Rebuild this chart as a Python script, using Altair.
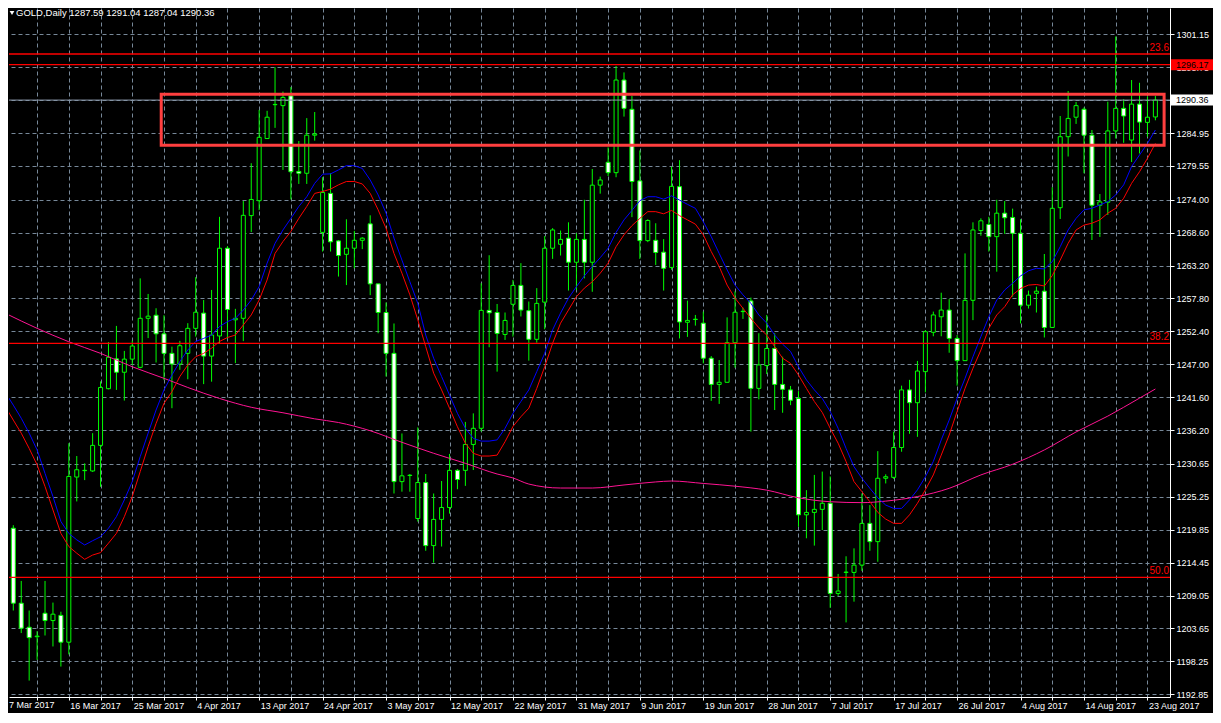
import altair as alt
import pandas as pd

alt.data_transformers.disable_max_rows()

# ---------------- data ----------------
DATES = ["7 Mar 2017", "16 Mar 2017", "25 Mar 2017", "4 Apr 2017", "13 Apr 2017",
         "24 Apr 2017", "3 May 2017", "12 May 2017", "22 May 2017", "31 May 2017",
         "9 Jun 2017", "19 Jun 2017", "28 Jun 2017", "7 Jul 2017", "17 Jul 2017",
         "26 Jul 2017", "4 Aug 2017", "14 Aug 2017", "23 Aug 2017"]

OPEN = [1228.7, 1220.1, 1207.8, 1203.85, 1202.3, 1206.15, 1204.95, 1205.8, 1201.4, 1228.5,
        1229.55, 1229.5, 1233.7, 1243.0, 1247.9, 1245.7, 1247.85, 1246.5, 1254.55, 1255.05,
        1252.0, 1248.8, 1247.05, 1248.8, 1252.9, 1255.4, 1248.35, 1251.65, 1266.05, 1254.3,
        1254.55, 1271.4, 1273.85, 1284.05, 1289.6, 1289.45, 1291.05, 1278.65, 1278.35, 1284.6,
        1268.65, 1275.05, 1267.25, 1265.05, 1266.05, 1267.35, 1270.05, 1260.2, 1255.5, 1248.8,
        1227.75, 1228.75, 1221.7, 1227.6, 1217.25, 1221.55, 1223.5, 1229.6, 1229.6, 1233.85,
        1236.5, 1255.85, 1255.5, 1251.9, 1256.85, 1259.95, 1255.8, 1251.1, 1257.2, 1266.05,
        1266.7, 1267.7, 1263.75, 1267.5, 1263.75, 1276.4, 1280.15, 1278.45, 1293.65, 1288.85,
        1277.1, 1267.3, 1267.35, 1265.4, 1262.9, 1276.15, 1253.9, 1254.35, 1253.75, 1248.0,
        1243.7, 1244.05, 1250.55, 1255.65, 1257.4, 1243.05, 1246.8, 1249.6, 1243.7, 1242.8,
        1241.4, 1222.3, 1222.7, 1223.2, 1224.2, 1209.4, 1212.85, 1212.85, 1214.05, 1220.9,
        1217.9, 1228.3, 1228.45, 1233.35, 1242.8, 1240.7, 1245.8, 1252.25, 1254.8, 1255.9,
        1251.25, 1247.6, 1257.5, 1268.95, 1269.95, 1267.95, 1271.8, 1271.1, 1268.5, 1256.7,
        1258.65, 1259.0, 1253.05, 1272.7, 1284.35, 1287.55, 1288.85, 1284.6, 1273.1, 1273.6,
        1285.3, 1289.0, 1283.8, 1289.7, 1286.7, 1287.59]

HIGH = [1229.5, 1220.6, 1211.45, 1206.6, 1203.2, 1211.45, 1207.9, 1206.4, 1234.05, 1231.95,
        1230.75, 1235.7, 1244.2, 1250.65, 1253.3, 1249.2, 1250.9, 1261.1, 1258.55, 1256.2,
        1255.05, 1249.9, 1250.85, 1253.75, 1261.3, 1257.55, 1259.2, 1271.2, 1266.4, 1256.1,
        1273.8, 1280.0, 1288.75, 1288.6, 1295.75, 1291.75, 1292.5, 1283.65, 1287.4, 1288.4,
        1277.7, 1278.35, 1267.4, 1270.8, 1268.9, 1267.85, 1271.45, 1260.2, 1257.15, 1253.7,
        1235.65, 1229.0, 1236.65, 1229.0, 1225.8, 1227.85, 1232.3, 1229.8, 1237.55, 1238.95,
        1260.3, 1264.9, 1256.9, 1255.5, 1260.85, 1263.6, 1257.3, 1259.5, 1268.05, 1269.35,
        1268.95, 1270.3, 1268.5, 1274.0, 1279.05, 1277.8, 1282.6, 1295.95, 1294.9, 1291.05,
        1282.1, 1270.8, 1270.15, 1267.55, 1279.45, 1280.5, 1257.45, 1255.1, 1255.65, 1248.35,
        1247.7, 1254.7, 1258.95, 1256.3, 1257.95, 1252.1, 1255.1, 1252.1, 1248.25, 1243.45,
        1242.6, 1226.35, 1228.85, 1229.4, 1228.6, 1212.6, 1215.5, 1216.8, 1225.8, 1223.9,
        1232.75, 1228.95, 1235.95, 1243.5, 1244.45, 1247.55, 1252.6, 1255.65, 1258.75, 1257.7,
        1251.8, 1265.2, 1270.3, 1270.95, 1271.2, 1274.0, 1273.8, 1272.55, 1270.8, 1259.1,
        1259.75, 1265.1, 1276.05, 1287.75, 1291.85, 1290.05, 1289.15, 1285.45, 1274.95, 1290.1,
        1300.8, 1290.5, 1293.65, 1293.2, 1290.95, 1291.04]

LOW = [1219.5, 1206.6, 1202.9, 1195.1, 1198.5, 1202.5, 1200.7, 1197.4, 1199.4, 1224.5,
       1228.0, 1229.35, 1226.9, 1242.9, 1242.8, 1241.05, 1246.9, 1246.35, 1251.3, 1247.3,
       1244.4, 1239.8, 1246.1, 1244.55, 1251.55, 1243.75, 1244.15, 1250.45, 1251.25, 1247.2,
       1250.8, 1268.7, 1272.3, 1284.05, 1285.8, 1278.9, 1274.05, 1276.6, 1276.6, 1283.7,
       1265.5, 1265.5, 1261.4, 1260.0, 1262.75, 1265.9, 1258.35, 1252.1, 1245.0, 1225.8,
       1226.1, 1226.1, 1221.2, 1216.4, 1214.45, 1217.1, 1222.5, 1226.5, 1227.05, 1229.65,
       1235.95, 1249.8, 1245.8, 1251.0, 1251.55, 1254.85, 1247.6, 1250.55, 1252.75, 1264.3,
       1264.85, 1259.1, 1259.2, 1261.1, 1258.9, 1275.0, 1277.9, 1277.7, 1287.65, 1271.15,
       1264.3, 1267.05, 1263.3, 1259.1, 1262.5, 1251.25, 1251.5, 1253.35, 1247.15, 1241.0,
       1240.5, 1244.05, 1246.45, 1254.45, 1235.95, 1241.25, 1245.4, 1239.5, 1239.05, 1240.3,
       1220.35, 1218.45, 1217.25, 1219.8, 1207.05, 1209.0, 1204.65, 1208.05, 1213.1, 1216.4,
       1214.6, 1227.45, 1228.2, 1232.65, 1235.6, 1235.1, 1242.4, 1251.6, 1251.6, 1248.9,
       1243.5, 1247.6, 1254.25, 1268.1, 1265.5, 1262.2, 1268.4, 1258.1, 1253.7, 1256.15,
       1255.5, 1251.4, 1253.05, 1270.85, 1281.1, 1286.45, 1278.35, 1267.4, 1267.9, 1271.5,
       1284.05, 1283.35, 1280.2, 1281.6, 1284.35, 1287.04]

CLOSE = [1220.1, 1207.8, 1203.7, 1202.15, 1202.4, 1204.95, 1206.0, 1201.4, 1228.6, 1229.7,
         1229.6, 1233.7, 1243.2, 1248.15, 1245.7, 1247.85, 1250.0, 1254.55, 1254.9, 1252.0,
         1248.8, 1247.05, 1250.05, 1252.9, 1255.55, 1248.35, 1251.8, 1266.05, 1256.0, 1254.55,
         1271.45, 1274.05, 1284.25, 1287.55, 1289.65, 1290.8, 1278.6, 1278.35, 1284.6, 1284.8,
         1275.2, 1267.1, 1264.85, 1266.05, 1267.35, 1267.7, 1260.2, 1255.5, 1248.8, 1227.75,
         1228.7, 1228.8, 1227.6, 1217.25, 1221.55, 1223.5, 1229.6, 1228.1, 1233.85, 1236.5,
         1255.85, 1255.45, 1252.05, 1254.2, 1259.95, 1255.9, 1251.1, 1257.0, 1266.05, 1269.05,
         1267.5, 1263.75, 1267.5, 1263.75, 1276.4, 1277.25, 1278.45, 1293.65, 1289.0, 1277.0,
         1267.3, 1270.6, 1265.35, 1262.75, 1276.2, 1253.95, 1254.2, 1254.4, 1248.0, 1243.7,
         1244.05, 1250.55, 1255.55, 1255.7, 1243.05, 1246.9, 1249.6, 1243.7, 1242.9, 1241.1,
         1222.3, 1222.7, 1223.2, 1224.2, 1209.4, 1209.8, 1212.9, 1214.05, 1220.9, 1217.9,
         1228.3, 1228.55, 1233.35, 1242.8, 1240.7, 1245.9, 1252.35, 1255.1, 1255.9, 1251.25,
         1247.6, 1257.5, 1269.05, 1270.55, 1267.95, 1271.8, 1271.05, 1268.5, 1256.7, 1258.35,
         1259.0, 1253.05, 1272.6, 1284.35, 1287.35, 1289.45, 1284.6, 1273.1, 1273.65, 1285.3,
         1289.0, 1287.75, 1289.7, 1286.75, 1287.55, 1290.36]

MA_BLUE = [1242.35, 1240.3, 1238.15, 1235.7, 1232.95, 1229.1, 1225.3, 1221.2, 1219.25, 1218.2,
           1217.35, 1218.05, 1218.7, 1220.1, 1222.0, 1224.75, 1227.75, 1231.85, 1235.7, 1239.5,
           1242.8, 1245.25, 1247.45, 1249.35, 1250.75, 1251.25, 1251.8, 1253.2, 1254.0, 1254.55,
           1255.9, 1257.55, 1259.75, 1263.6, 1266.85, 1269.05, 1270.95, 1272.9, 1274.5, 1276.7,
           1278.2, 1278.25, 1278.9, 1279.6, 1279.6, 1279.15, 1277.25, 1274.8, 1271.8, 1267.7,
           1264.1, 1260.55, 1257.0, 1251.8, 1248.0, 1245.0, 1241.95, 1238.95, 1236.5, 1234.85,
           1234.4, 1234.4, 1234.6, 1236.5, 1238.95, 1240.9, 1242.8, 1245.8, 1248.8, 1252.65,
           1255.4, 1257.85, 1259.75, 1261.5, 1263.05, 1264.5, 1266.05, 1268.65, 1270.7, 1272.25,
           1273.85, 1274.5, 1274.5, 1274.1, 1274.65, 1273.95, 1273.25, 1272.6, 1270.4, 1267.95,
           1265.2, 1262.5, 1260.0, 1258.4, 1257.0, 1255.1, 1253.75, 1251.8, 1250.3, 1249.1,
           1246.6, 1244.45, 1242.8, 1241.4, 1239.25, 1236.5, 1233.2, 1230.2, 1228.3, 1226.65,
           1225.1, 1223.9, 1223.35, 1223.35, 1224.75, 1226.4, 1228.55, 1231.05, 1234.6, 1237.85,
           1241.4, 1244.7, 1248.25, 1251.55, 1254.8, 1257.55, 1259.2, 1260.3, 1261.5, 1262.35,
           1262.75, 1262.65, 1263.85, 1266.3, 1269.05, 1270.95, 1272.35, 1272.6, 1273.15, 1273.7,
           1274.8, 1276.45, 1279.45, 1281.35, 1283.25, 1285.45]

MA_RED = [1240.05, 1237.85, 1235.7, 1233.2, 1230.5, 1226.95, 1223.1, 1219.25, 1217.1, 1216.0,
          1215.0, 1215.7, 1216.1, 1217.65, 1219.25, 1222.0, 1225.3, 1229.4, 1233.5, 1237.3,
          1240.6, 1242.5, 1245.0, 1246.9, 1248.25, 1248.8, 1249.65, 1250.75, 1251.4, 1251.8,
          1253.45, 1255.1, 1257.55, 1260.85, 1265.2, 1267.15, 1268.8, 1270.95, 1272.9, 1275.05,
          1275.35, 1275.75, 1276.45, 1277.0, 1277.0, 1276.6, 1275.05, 1272.35, 1269.3, 1265.2,
          1261.95, 1258.4, 1254.3, 1249.9, 1245.55, 1242.8, 1239.8, 1236.75, 1234.05, 1232.4,
          1231.95, 1231.95, 1232.1, 1234.3, 1236.8, 1238.4, 1239.8, 1243.05, 1246.6, 1250.45,
          1253.75, 1255.9, 1258.1, 1259.5, 1260.55, 1261.95, 1263.6, 1266.3, 1268.25, 1269.75,
          1270.95, 1272.05, 1272.05, 1271.7, 1272.25, 1271.4, 1270.7, 1270.0, 1268.25, 1265.5,
          1263.05, 1260.0, 1257.85, 1256.2, 1254.55, 1253.0, 1251.8, 1249.9, 1248.0, 1247.15,
          1245.25, 1243.05, 1240.9, 1239.1, 1236.5, 1234.05, 1231.05, 1227.75, 1226.1, 1224.45,
          1222.7, 1221.6, 1220.9, 1220.9, 1222.3, 1224.2, 1226.4, 1228.85, 1232.1, 1235.4,
          1239.25, 1243.05, 1246.35, 1249.35, 1252.9, 1255.1, 1256.45, 1258.4, 1259.45, 1260.0,
          1260.1, 1259.85, 1261.55, 1264.1, 1266.85, 1269.05, 1269.85, 1270.15, 1270.7, 1271.8,
          1272.6, 1274.25, 1276.7, 1278.6, 1280.8, 1283.25]

MA_PINK_AT = [0, 4, 8, 12, 16, 20, 23, 27, 31, 35, 39, 42, 46, 50, 54, 58, 62, 64, 66, 70,
              74, 78, 82, 84, 88, 92, 96, 100, 104, 108, 111, 115, 119, 123, 127, 131, 135, 139, 143, 145]
MA_PINK = [1255.37, 1252.9, 1250.7, 1248.8, 1246.6, 1244.7, 1243.2, 1241.4, 1239.95, 1239.05,
           1238.05, 1237.45, 1236.1, 1234.2, 1232.4, 1230.75, 1229.0, 1228.35, 1227.35, 1226.7,
           1226.7, 1227.2, 1227.7, 1227.85, 1227.45, 1227.0, 1226.35, 1225.1, 1224.45, 1224.3,
           1224.55, 1225.3, 1226.65, 1228.85, 1230.6, 1232.95, 1235.9, 1238.5, 1241.45, 1242.95]

PRICE_TICKS = [1192.85, 1198.25, 1203.65, 1209.05, 1214.45, 1219.85, 1225.25, 1230.65, 1236.20,
               1241.60, 1247.00, 1252.40, 1257.80, 1263.20, 1268.60, 1274.00, 1279.55, 1284.95,
               1290.35, 1295.75, 1301.15]

FIB_LABELS = ["23.6", "38.2", "50.0"]
FIB_LEVELS = [1297.92, 1250.45, 1212.05]

TAG_LABELS = ["1296.17", "1290.36"]
TAG_PRICES = [1296.17, 1290.36]

BOX_BARS = [19.65, 146.1]          # highlight rectangle, bar positions
BOX_PRICES = [1291.33, 1282.95]     # highlight rectangle, top / bottom price

TITLE = "GOLD,Daily  1287.59 1291.04 1287.04 1290.36"

# ---------------- tables ----------------
n = len(OPEN)
candles = pd.DataFrame({"i": list(range(n)), "open": OPEN, "high": HIGH,
                        "low": LOW, "close": CLOSE})
ma = pd.DataFrame({"i": list(range(n)), "blue": MA_BLUE, "red": MA_RED})
pink = pd.DataFrame({"i": MA_PINK_AT, "v": MA_PINK})
fib = pd.DataFrame({"label": FIB_LABELS, "price": FIB_LEVELS})
levels = pd.DataFrame({"price": [FIB_LEVELS[0], TAG_PRICES[0], FIB_LEVELS[1], FIB_LEVELS[2]]})
cur = pd.DataFrame({"price": [TAG_PRICES[1]]})
tags = pd.DataFrame({"label": TAG_LABELS, "price": TAG_PRICES,
                     "bg": ["#ff0000", "#ffffff"]})
box = pd.DataFrame({"x1": [BOX_BARS[0]], "x2": [BOX_BARS[1]],
                    "y1": [BOX_PRICES[0]], "y2": [BOX_PRICES[1]]})
first = pd.DataFrame({"label": [DATES[0]]})
title = pd.DataFrame({"t": [TITLE]})

W, H = 1161, 689
XS = alt.Scale(domain=[1.0875, 146.2125], nice=False, zero=False)
YS = alt.Scale(domain=[1192.407, 1305.47], nice=False, zero=False)

FONT = "Liberation Sans"
GRID = "#778899"
arr = "[" + ",".join("'" + d + "'" for d in DATES) + "]"
XAX = alt.Axis(values=list(range(4, 147, 4)),
               labelExpr="datum.value % 8 == 0 ? " + arr + "[datum.value / 8] : ''",
               orient="bottom", grid=True, gridColor=GRID, gridDash=[4, 3], gridWidth=1,
               domainColor="white", domainWidth=1, tickColor="white", tickSize=3,
               labelColor="white", labelFont=FONT, labelFontSize=9, labelAlign="left",
               labelBaseline="top", labelPadding=1, labelOffset=1, labelFlush=False,
               labelOverlap=False, labelBound=False, title=None)
YAX = alt.Axis(values=PRICE_TICKS, format=".2f", orient="right", grid=True,
               gridColor=GRID, gridDash=[4, 3], gridWidth=1,
               domainColor="white", domainWidth=1, tickColor="white", tickSize=4,
               labelColor="white", labelFont=FONT, labelFontSize=9, labelPadding=2,
               labelFlush=False, labelOverlap=False, title=None)


def X(field):
    return alt.X(field, type="quantitative", scale=XS, axis=XAX)


def Y(field):
    return alt.Y(field, type="quantitative", scale=YS, axis=YAX)


wicks = alt.Chart(candles).mark_rule(color="#00ff00", strokeWidth=1, clip=True).encode(
    x=X("i"), y=Y("low"), y2="high")

bodies = alt.Chart(candles).mark_bar(size=4, stroke="#00ff00", strokeWidth=1, clip=True).encode(
    x=X("i"), y=Y("open"), y2="close",
    fill=alt.condition("datum.close < datum.open", alt.value("#ffffff"), alt.value("#000000")))

pink_line = alt.Chart(pink).mark_line(color="#ff1493", strokeWidth=1, clip=True,
                                       interpolate="monotone").encode(x=X("i"), y=Y("v"))
red_line = alt.Chart(ma).mark_line(color="#ff0000", strokeWidth=1, clip=True).encode(
    x=X("i"), y=Y("red"))
blue_line = alt.Chart(ma).mark_line(color="#0000ff", strokeWidth=1, clip=True).encode(
    x=X("i"), y=Y("blue"))

lvl = alt.Chart(levels).mark_rule(color="#ff0000", strokeWidth=1.3).encode(y=Y("price"))
cur_line = alt.Chart(cur).mark_rule(color="#8c9aab", strokeWidth=1).encode(y=Y("price"))

fib_text = alt.Chart(fib).mark_text(align="right", baseline="bottom", dy=-1, color="#ff0000",
                                    font=FONT, fontSize=10).encode(
    x=alt.value(W - 1), y=Y("price"), text="label:N")

hl = alt.Chart(box).mark_rect(fillOpacity=0, stroke="#ff3f3f", strokeWidth=3, clip=True).encode(
    x=X("x1"), x2="x2", y=Y("y1"), y2="y2")

tag_bg = alt.Chart(tags).mark_rect(yOffset=-5.5, y2Offset=5.5).encode(
    x=alt.value(W + 1), x2=alt.value(W + 43), y=Y("price"), y2="price",
    fill=alt.Fill("bg:N", scale=None))
tag_txt = alt.Chart(tags).mark_text(align="left", baseline="middle", color="#000000",
                                    font=FONT, fontSize=9).encode(
    x=alt.value(W + 6), y=Y("price"), text="label:N")

first_lbl = alt.Chart(first).mark_text(align="left", baseline="top", color="white",
                                       font=FONT, fontSize=9).encode(
    x=alt.value(0), y=alt.value(H + 4), text="label:N")

tri = alt.Chart(title).mark_point(shape="triangle-down", filled=True, size=22,
                                  color="white", opacity=1).encode(
    x=alt.value(3), y=alt.value(5))
ttl = alt.Chart(title).mark_text(align="left", baseline="middle", color="white",
                                 font=FONT, fontSize=9.5).encode(
    x=alt.value(7), y=alt.value(5), text="t:N")

chart = alt.layer(
    wicks, bodies, pink_line, red_line, blue_line, lvl, cur_line, fib_text, hl,
    tag_bg, tag_txt, first_lbl, tri, ttl
).properties(
    width=W, height=H,
    background="#000000",
    padding={"left": 0, "top": 0, "right": 0, "bottom": 3},
).configure_view(strokeWidth=0)

chart.save("out.html", embed_options={"renderer": "svg", "actions": False})
